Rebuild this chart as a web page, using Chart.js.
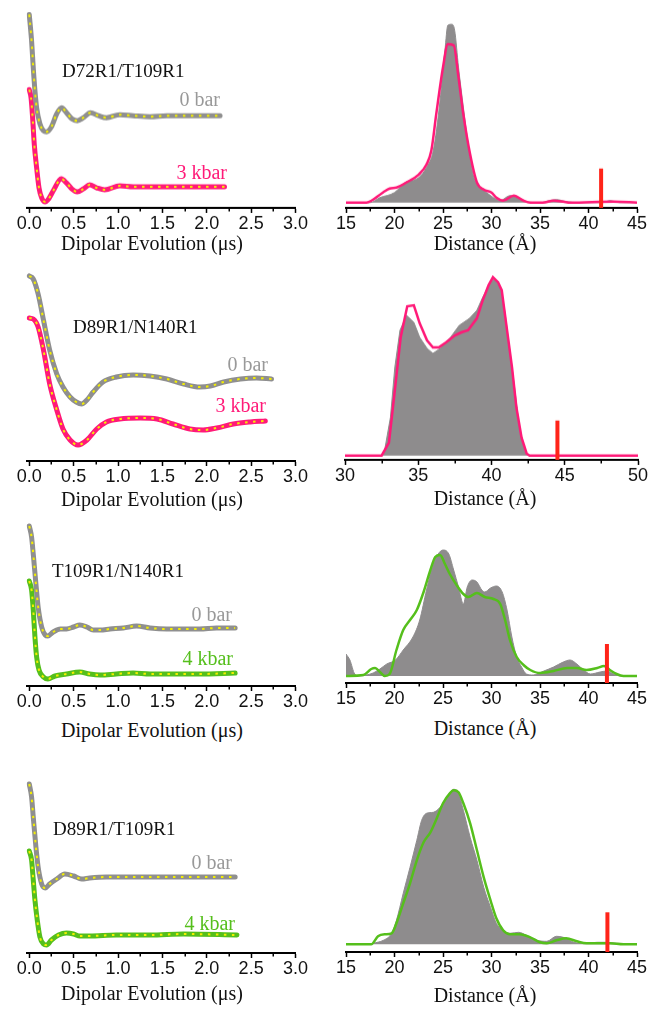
<!DOCTYPE html>
<html>
<head>
<meta charset="utf-8">
<script src="https://cdn.jsdelivr.net/npm/chart.js@4.4.1/dist/chart.umd.min.js"></script>
<style>
body { margin: 0; background: #fff; width: 654px; height: 1009px; position: relative; overflow: hidden; }
canvas { position: absolute; }
.lbl { position: absolute; font-family: "Liberation Serif", "Times New Roman", serif; font-size: 19px; line-height: 20px; white-space: nowrap; color: #111; }
</style>
</head>
<body>
<script>
// ---- DEER traces (time in us, echo in a.u. with vertical offset) ----
// D72R1/T109R1
var tr1Time0 = [0, 0.026, 0.045, 0.064, 0.083, 0.12, 0.16, 0.195, 0.25, 0.31, 0.365, 0.42, 0.48, 0.54, 0.61, 0.69, 0.78, 0.87, 1.02, 1.17, 1.36, 1.55, 1.77, 2.0, 2.15];
var tr1Echo0 = [193, 167, 140, 117, 100, 84, 77, 76, 81, 94, 100, 95, 89, 87, 90, 95, 92, 90, 93, 92, 91, 92, 92, 92, 92];
var tr1Time3 = [0, 0.02, 0.04, 0.056, 0.083, 0.11, 0.14, 0.18, 0.21, 0.27, 0.36, 0.42, 0.48, 0.54, 0.61, 0.68, 0.76, 0.85, 1.02, 1.17, 1.55, 1.92, 2.2];
var tr1Echo3 = [118, 110, 87, 64, 40, 20, 10, 6, 8, 17, 29, 25, 19, 16, 19, 23, 20, 18, 22, 21, 21, 21, 21];
// D89R1/N140R1
var tr2Time0 = [0, 0.045, 0.10, 0.16, 0.23, 0.31, 0.38, 0.46, 0.53, 0.59, 0.65, 0.72, 0.83, 0.98, 1.17, 1.36, 1.55, 1.74, 1.92, 2.04, 2.19, 2.38, 2.56, 2.73];
var tr2Echo0 = [185, 182, 167, 141, 111, 87, 74, 64, 59, 57, 61, 69, 79, 84, 86, 85, 82, 77, 74, 75, 79, 82, 83, 82];
var tr2Time3 = [0, 0.045, 0.10, 0.16, 0.23, 0.31, 0.38, 0.46, 0.55, 0.65, 0.76, 0.87, 1.02, 1.25, 1.44, 1.62, 1.81, 1.96, 2.11, 2.30, 2.49, 2.66];
var tr2Echo3 = [143, 142, 134, 111, 77, 51, 32, 21, 16, 21, 32, 39, 42, 43, 42, 37, 32, 31, 33, 37, 39, 40];
// T109R1/N140R1
var tr3Time0 = [0, 0.026, 0.045, 0.075, 0.10, 0.14, 0.18, 0.21, 0.27, 0.35, 0.42, 0.50, 0.57, 0.65, 0.72, 0.80, 0.91, 1.06, 1.21, 1.36, 1.55, 1.74, 1.92, 2.11, 2.32];
var tr3Echo0 = [160, 149, 132, 102, 79, 59, 51, 50, 54, 57, 57, 59, 61, 59, 56, 56, 57, 58, 60, 58, 57, 57, 57, 58, 58];
var tr3Time4 = [0, 0.026, 0.045, 0.064, 0.083, 0.11, 0.16, 0.21, 0.29, 0.42, 0.57, 0.68, 0.80, 0.98, 1.17, 1.36, 1.55, 1.92, 2.32];
var tr3Echo4 = [105, 96, 76, 49, 29, 16, 9, 7, 10, 12, 14, 12, 11, 12, 13, 12, 12, 12, 13];
// D89R1/T109R1
var tr4Time0 = [0, 0.026, 0.045, 0.075, 0.10, 0.14, 0.18, 0.23, 0.31, 0.40, 0.50, 0.59, 0.68, 0.87, 1.17, 1.55, 1.92, 2.32];
var tr4Echo0 = [169, 156, 136, 106, 86, 69, 65, 69, 74, 79, 77, 74, 75, 76, 76, 76, 76, 76];
var tr4Time4 = [0, 0.026, 0.045, 0.064, 0.09, 0.12, 0.16, 0.195, 0.25, 0.33, 0.42, 0.50, 0.57, 0.68, 0.98, 1.36, 1.74, 2.34];
var tr4Echo4 = [102, 93, 73, 53, 33, 16, 9, 8, 13, 18, 20, 19, 17, 17, 18, 18, 19, 18];

// ---- distance distributions (r in Angstrom, P(r) in a.u.) ----
var pr1R0 = [15, 17.5, 18.5, 20, 21.1, 22.5, 23.3, 24, 24.7, 25.2, 25.5, 25.9, 26.2, 26.6, 27.1, 27.6, 28.1, 28.8, 29.5, 30.2, 30.9, 31.9, 32.6, 33.6, 35, 36, 36.7, 37.7, 39, 41.5, 42.2, 43.2, 45];
var pr1P0 = [0, 0, 5, 10, 20, 25, 35, 52, 102, 152, 177, 178, 172, 135, 95, 58, 28, 15, 10, 5, 2, 7, 5, 1, 0, 2, 3, 1, 0, 0, 2, 0, 0];
var pr1R3 = [15, 17.1, 18.8, 19.5, 20.2, 21.2, 22.5, 23.3, 23.8, 24.3, 25.0, 25.5, 26.1, 26.6, 27.1, 27.8, 28.5, 29.2, 30.0, 30.5, 31.2, 32.3, 33.3, 34, 35.3, 36.4, 37.4, 38.1, 42.6, 45];
var pr1P3 = [0, 0, 10, 14, 15, 20, 28, 38, 52, 88, 135, 158, 157, 125, 88, 48, 20, 13, 10, 5, 2, 7, 2, 0, 0, 2, 1, 0, 1, 0];
var pr2R0 = [30, 32.5, 32.7, 33.1, 33.4, 33.75, 34.2, 34.7, 35.1, 35.6, 36.0, 36.5, 37.2, 37.8, 38.5, 39.0, 39.4, 39.9, 40.2, 40.6, 40.9, 41.25, 41.6, 41.9, 42.3, 42.6, 50];
var pr2P0 = [0, 0, 5, 38, 88, 125, 140, 133, 118, 107, 102, 107, 118, 130, 137, 145, 158, 172, 177, 168, 145, 105, 65, 28, 3, 0, 0];
var pr2R3 = [30, 32.5, 33.0, 33.4, 33.8, 34.25, 34.7, 35.1, 35.6, 36.0, 36.4, 36.9, 37.5, 37.95, 38.4, 39.0, 39.4, 39.8, 40.1, 40.45, 40.7, 41.0, 41.4, 41.7, 42.05, 42.4, 42.6, 50];
var pr2P3 = [0, 0, 13, 65, 118, 149, 150, 132, 115, 108, 108, 113, 120, 123, 125, 137, 155, 170, 178, 173, 165, 132, 88, 48, 18, 2, 0, 0];
var pr3R0 = [15, 15.4, 15.9, 16.4, 17.1, 17.8, 18.5, 19.2, 20.1, 20.9, 21.9, 22.6, 23.3, 24.0, 24.5, 25.0, 25.6, 26.1, 26.6, 27.1, 27.5, 28.0, 28.5, 29.0, 29.3, 29.9, 30.5, 31.1, 31.6, 32.1, 32.6, 33.1, 33.6, 34.3, 35.4, 36.4, 37.4, 38.1, 38.8, 39.5, 40.2, 41.2, 41.9, 42.6, 43.3, 45];
var pr3P0 = [22, 16, 2, 0, 1, 3, 7, 12, 16, 26, 39, 56, 86, 112, 122, 126, 122, 106, 89, 72, 89, 96, 94, 86, 84, 88, 90, 84, 66, 39, 19, 9, 2, 1, 5, 9, 14, 16, 12, 6, 2, 4, 5, 2, 0, 0];
var pr3R4 = [15, 16.8, 17.6, 18.0, 18.5, 19.0, 19.5, 20.2, 20.9, 21.6, 22.3, 23.0, 23.7, 24.2, 24.7, 25.2, 25.7, 26.4, 27.1, 27.6, 28.5, 29.3, 30.2, 30.9, 31.4, 31.9, 32.6, 33.3, 34.0, 35.0, 36.4, 37.8, 38.8, 39.8, 40.9, 41.6, 42.2, 42.9, 43.6, 45];
var pr3P4 = [0, 1, 7, 8, 4, 0, 2, 26, 46, 56, 66, 84, 106, 119, 121, 112, 102, 91, 82, 79, 83, 79, 77, 72, 56, 36, 19, 11, 6, 3, 5, 8, 8, 6, 8, 10, 6, 2, 0, 0];
var pr4R0 = [15, 17.5, 17.8, 18.85, 19.7, 20.2, 20.9, 21.6, 22.3, 22.8, 23.3, 24.0, 24.7, 25.4, 26.1, 26.6, 27.1, 27.8, 28.5, 29.2, 29.9, 30.5, 31.2, 31.9, 32.8, 33.6, 34.7, 35.7, 36.7, 37.4, 38.5, 39.5, 40.9, 41.9, 42.9, 45];
var pr4P0 = [0, 0, 1, 4, 11, 24, 51, 77, 104, 124, 131, 132, 137, 147, 155, 151, 134, 107, 84, 57, 37, 21, 14, 11, 12, 9, 4, 3, 8, 7, 2, 1, 2, 2, 1, 0];
var pr4R4 = [15, 17.6, 18.3, 19.0, 19.7, 20.2, 20.9, 21.6, 22.3, 23.0, 23.7, 24.4, 25.0, 25.7, 26.1, 26.6, 27.1, 27.8, 28.5, 29.2, 29.9, 30.5, 31.2, 31.9, 32.9, 34.0, 35.0, 35.7, 36.7, 37.7, 38.8, 39.8, 40.9, 42.2, 43.6, 45];
var pr4P4 = [0, 0, 8, 10, 11, 21, 41, 61, 84, 102, 112, 127, 141, 151, 154, 152, 141, 121, 94, 67, 44, 26, 14, 10, 10, 7, 2, 1, 4, 6, 3, 1, 1, 1, 0, 0];

// model-predicted distance (red bars)
var predicted = [41.3, 44.5, 41.9, 41.95];

// axis ticks
var timeTicks = [0, 0.5, 1.0, 1.5, 2.0, 2.5, 3.0];
var timeMinor = [0.25, 0.75, 1.25, 1.75, 2.25, 2.75];
var distTicksA = [15, 20, 25, 30, 35, 40, 45];
var distMinorA = [17.5, 22.5, 27.5, 32.5, 37.5, 42.5];
var distTicksB = [30, 35, 40, 45, 50];
var distMinorB = [32.5, 37.5, 42.5, 47.5];

var GRAY = '#8f8f8f';
var PINK = '#ff1a78';
var GREEN = '#55bf1c';
var FILL = '#8e8c8d';
var YELLOW = '#f3ee00';

Chart.defaults.font.family = '"Liberation Sans", Arial, sans-serif';
Chart.defaults.color = '#111';

var minorTicks = {
    id: 'minorTicks',
    afterDraw: function(chart, args, opts) {
        var s = chart.scales.x;
        var ctx = chart.ctx;
        ctx.save();
        ctx.strokeStyle = '#000';
        ctx.lineWidth = 1.5;
        (opts.values || []).forEach(function(v) {
            var px = Math.round(s.getPixelForValue(v)) + 0.25;
            ctx.beginPath();
            ctx.moveTo(px, s.top);
            ctx.lineTo(px, s.top + 3.5);
            ctx.stroke();
        });
        ctx.restore();
    }
};

function pts(xs, ys) {
    return xs.map(function(x, i) { return {x: x, y: ys[i]}; });
}

function addCanvas(left, top, w, h) {
    var c = document.createElement('canvas');
    c.width = w; c.height = h;
    c.style.left = left + 'px'; c.style.top = top + 'px';
    c.style.width = w + 'px'; c.style.height = h + 'px';
    document.body.appendChild(c);
    return c;
}

function xAxis(min, max, ticks, decimals) {
    return {
        type: 'linear', min: min, max: max,
        afterBuildTicks: function(s) { s.ticks = ticks.map(function(v) { return {value: v}; }); },
        afterFit: function(s) { s.height = 30; },
        border: {display: true, color: '#000', width: 2},
        grid: {display: true, drawOnChartArea: false, drawTicks: true, tickLength: 5, tickWidth: 1.5, tickColor: '#000'},
        ticks: {
            padding: 2, maxRotation: 0, autoSkip: false,
            font: {size: 18, lineHeight: 1},
            color: '#111',
            callback: function(v) { return decimals ? Number(v).toFixed(decimals) : String(v); }
        }
    };
}

function baseOptions(pad, x, ymin, ymax, minor) {
    return {
        responsive: false, animation: false, devicePixelRatio: 1,
        layout: {padding: {left: pad[0], right: pad[1], top: 0, bottom: 0}},
        elements: {point: {radius: 0}},
        plugins: {legend: {display: false}, tooltip: {enabled: false}, minorTicks: {values: minor}},
        scales: {x: x, y: {display: false, min: ymin, max: ymax}}
    };
}

// DEER trace panel: each trace = thick coloured line + yellow dotted fit
function tracePanel(top, axisY, traces) {
    var h = axisY - top + 30;
    var c = addCanvas(0, top, 320, h);
    var ds = [];
    traces.forEach(function(tr) {
        var d = pts(tr[0], tr[1]);
        ds.push({data: d, borderColor: YELLOW, borderWidth: 2, borderDash: [2.5, 5.5], cubicInterpolationMode: 'monotone', fill: false, order: 1});
        ds.push({data: d, borderColor: tr[2], borderWidth: 5, borderCapStyle: 'round', cubicInterpolationMode: 'monotone', fill: false, order: 2});
    });
    new Chart(c, {
        type: 'line',
        data: {datasets: ds},
        options: baseOptions([26.6, 24.5], xAxis(-0.03, 3.0, timeTicks, 1), 0, axisY - top, timeMinor),
        plugins: [minorTicks]
    });
}

// distance distribution panel: grey area (0 bar), coloured line (high pressure), red bar
function distPanel(top, axisY, base, r0, p0, r1, p1, color, marker, markH, range, ticks, minor, pad, smooth) {
    var h = axisY - top + 30;
    var c = addCanvas(330, top, 324, h);
    var ymin = -base;
    var interp = smooth ? {cubicInterpolationMode: 'monotone'} : {tension: 0};
    var ds = [
        Object.assign({data: [{x: marker, y: ymin}, {x: marker, y: markH}], borderColor: '#ff2419', borderWidth: 4, borderCapStyle: 'butt', fill: false, order: 1}),
        Object.assign({data: pts(r1, p1), borderColor: color, borderWidth: 2.5, fill: false, order: 2}, interp),
        Object.assign({data: pts(r0, p0), borderColor: FILL, borderWidth: 1, backgroundColor: FILL, fill: 'origin', order: 3}, interp)
    ];
    new Chart(c, {
        type: 'line',
        data: {datasets: ds},
        options: baseOptions(pad, xAxis(range[0], range[1], ticks, 0), ymin, axisY - top - base, minor),
        plugins: [minorTicks]
    });
}

tracePanel(0, 207.5, [[tr1Time0, tr1Echo0, GRAY], [tr1Time3, tr1Echo3, PINK]]);
tracePanel(262, 461, [[tr2Time0, tr2Echo0, GRAY], [tr2Time3, tr2Echo3, PINK]]);
tracePanel(515, 686, [[tr3Time0, tr3Echo0, GRAY], [tr3Time4, tr3Echo4, GREEN]]);
tracePanel(770, 953, [[tr4Time0, tr4Echo0, GRAY], [tr4Time4, tr4Echo4, GREEN]]);

distPanel(0, 207.5, 5.3, pr1R0, pr1P0, pr1R3, pr1P3, PINK, predicted[0], 34, [15, 45], distTicksA, distMinorA, [16, 17], true);
distPanel(262, 459.5, 4.3, pr2R0, pr2P0, pr2R3, pr2P3, PINK, predicted[1], 35, [30, 50], distTicksB, distMinorB, [15, 16], false);
distPanel(515, 683, 7, pr3R0, pr3P0, pr3R4, pr3P4, GREEN, predicted[2], 32, [15, 45], distTicksA, distMinorA, [16, 17], true);
distPanel(770, 952, 7.7, pr4R0, pr4P0, pr4R4, pr4P4, GREEN, predicted[3], 32, [15, 45], distTicksA, distMinorA, [16, 17], true);

// text annotations
var notes = [
    ['D72R1/T109R1', 'l', 62, 71, '#111', 19],
    ['0 bar', 'r', 220, 99, '#999', 20],
    ['3 kbar', 'r', 227, 172, PINK, 20],
    ['D89R1/N140R1', 'l', 73, 327, '#111', 19],
    ['0 bar', 'r', 268, 364, '#999', 20],
    ['3 kbar', 'r', 266, 405, PINK, 20],
    ['T109R1/N140R1', 'l', 52, 571, '#111', 19],
    ['0 bar', 'r', 232, 614, '#999', 20],
    ['4 kbar', 'r', 233, 658, GREEN, 20],
    ['D89R1/T109R1', 'l', 53, 829, '#111', 19],
    ['0 bar', 'r', 232, 862, '#999', 20],
    ['4 kbar', 'r', 235, 923, GREEN, 20],
    ['Dipolar Evolution (\u03bcs)', 'c', 152, 243, '#111', 20],
    ['Distance (\u00c5)', 'c', 485, 243, '#111', 20],
    ['Dipolar Evolution (\u03bcs)', 'c', 152, 499, '#111', 20],
    ['Distance (\u00c5)', 'c', 485, 498, '#111', 20],
    ['Dipolar Evolution (\u03bcs)', 'c', 152, 730, '#111', 20],
    ['Distance (\u00c5)', 'c', 485, 728, '#111', 20],
    ['Dipolar Evolution (\u03bcs)', 'c', 152, 993, '#111', 20],
    ['Distance (\u00c5)', 'c', 485, 995, '#111', 20]
];
notes.forEach(function(n) {
    var d = document.createElement('div');
    d.className = 'lbl';
    d.textContent = n[0];
    d.style.color = n[4];
    d.style.fontSize = n[5] + 'px';
    d.style.top = (n[3] - 10) + 'px';
    if (n[1] === 'l') d.style.left = n[2] + 'px';
    else if (n[1] === 'r') d.style.right = (654 - n[2]) + 'px';
    else { d.style.left = n[2] + 'px'; d.style.transform = 'translateX(-50%)'; }
    document.body.appendChild(d);
});
</script>
</body>
</html>
